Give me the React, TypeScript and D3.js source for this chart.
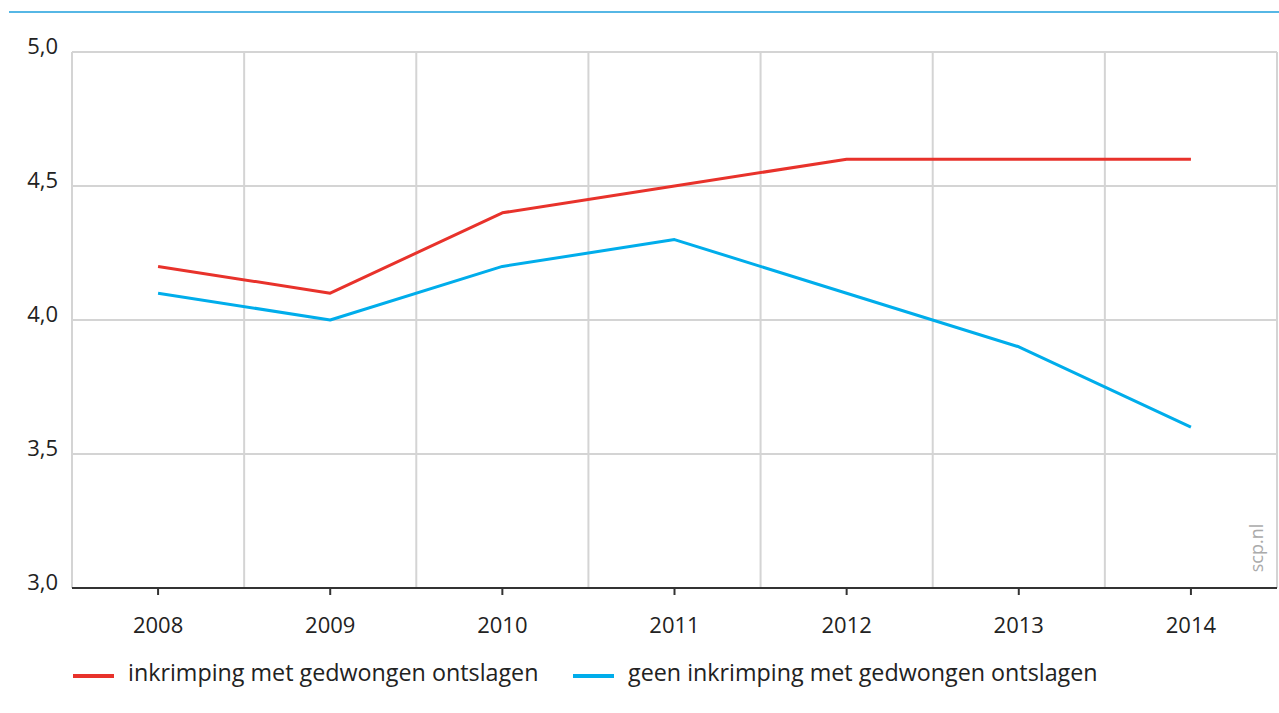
import React from "react";
import * as d3 from "d3";

const years = ["2008", "2009", "2010", "2011", "2012", "2013", "2014"];
const inkrimpingMet = [4.2, 4.1, 4.4, 4.5, 4.6, 4.6, 4.6];
const geenInkrimping = [4.1, 4.0, 4.2, 4.3, 4.1, 3.9, 3.6];
const yTicks = [3.0, 3.5, 4.0, 4.5, 5.0];
const seriesNames = ["inkrimping met gedwongen ontslagen", "geen inkrimping met gedwongen ontslagen"];
const seriesColors = ["#e8322b", "#00adeb"];

const W = 1279;
const H = 713;
const left = 72;
const right = 1277;
const top = 52;
const bottom = 588;
const font = "'Open Sans', 'Noto Sans', sans-serif";

export default function App() {
  const x = d3.scaleBand<string>().domain(years).range([left, right]).padding(0);
  const y = d3.scaleLinear().domain([3, 5]).range([bottom, top]);
  const cx = (d: string) => (x(d) as number) + x.bandwidth() / 2;
  const line = d3
    .line<number>()
    .x((_, i) => cx(years[i]))
    .y((v) => y(v));
  const series = [inkrimpingMet, geenInkrimping];
  const fmt = (v: number) => v.toFixed(1).replace(".", ",");
  const legendX = [73, 573];

  return (
    <svg width={W} height={H} style={{ position: "absolute", left: 0, top: 0, background: "#fff" }}>
      <line x1={9} x2={W} y1={12} y2={12} stroke="#1e9fdc" strokeWidth={1.5} />
      {yTicks.filter((t) => t > 3).map((t) => (
        <line key={t} x1={left} x2={right} y1={y(t)} y2={y(t)} stroke="#d4d4d4" strokeWidth={2} />
      ))}
      {years.map((yr) => (
        <line key={yr} x1={x(yr) as number} x2={x(yr) as number} y1={top} y2={bottom} stroke="#d4d4d4" strokeWidth={2} />
      ))}
      <line x1={right} x2={right} y1={top} y2={bottom} stroke="#d4d4d4" strokeWidth={2} />
      {yTicks.map((t) => (
        <text key={t} x={58} y={y(t) - 4} textAnchor="end" dominantBaseline="middle" fontFamily={font} fontSize={22} fill="#222">
          {fmt(t)}
        </text>
      ))}
      {series.map((s, i) => (
        <path key={i} d={line(s) as string} fill="none" stroke={seriesColors[i]} strokeWidth={3} strokeLinejoin="round" />
      ))}
      <line x1={left} x2={right} y1={bottom} y2={bottom} stroke="#333" strokeWidth={2} />
      {years.map((yr) => (
        <g key={yr}>
          <line x1={cx(yr)} x2={cx(yr)} y1={bottom} y2={bottom + 7} stroke="#333" strokeWidth={2} />
          <text x={cx(yr)} y={627} textAnchor="middle" dominantBaseline="middle" fontFamily={font} fontSize={22} fill="#222">
            {yr}
          </text>
        </g>
      ))}
      <text
        transform={`translate(1258,548) rotate(-90)`}
        textAnchor="middle"
        dominantBaseline="middle"
        fontFamily={font}
        fontSize={18}
        fill="#aaa"
      >
        scp.nl
      </text>
      {seriesNames.map((n, i) => (
        <g key={n}>
          <line x1={legendX[i]} x2={legendX[i] + 41} y1={676} y2={676} stroke={seriesColors[i]} strokeWidth={4} />
          <text x={legendX[i] + 55} y={675} dominantBaseline="middle" fontFamily={font} fontSize={23.3} fill="#222">
            {n}
          </text>
        </g>
      ))}
    </svg>
  );
}
